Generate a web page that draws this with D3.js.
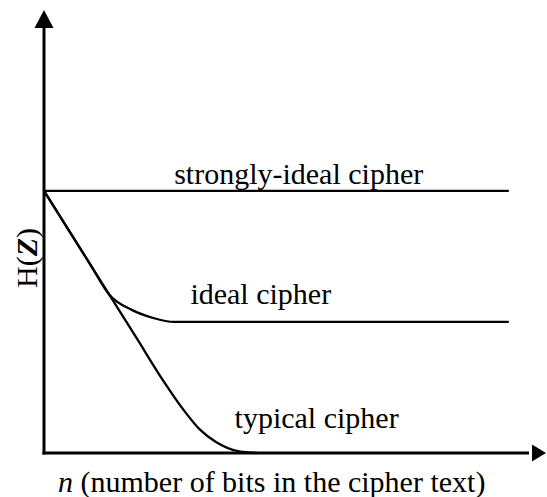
<!DOCTYPE html>
<html>
<head>
<meta charset="utf-8">
<script src="https://cdn.jsdelivr.net/npm/d3@7"></script>
<style>
  html, body { margin: 0; padding: 0; background: #fff; }
  svg { display: block; }
</style>
</head>
<body>
<script>
// curves: n on x, H(Z) on y (arbitrary units)
const strongIdeal = [[0, 100], [100, 100]]
const ideal = [[0, 100], [10, 71.8], [14, 60.5], [19, 54.5], [23.5, 51.5], [28, 50], [100, 50]]
const typical = [[0, 100], [20, 43.6], [25.5, 28], [30, 16.5], [33.5, 9], [37, 4.2], [42, 0.6], [46, 0]]

const curveLabels = ['strongly-ideal cipher', 'ideal cipher', 'typical cipher']
const labelAt = [[28, 102.5], [31.5, 57], [41, 9.5]]

const width = 547
const height = 497
const margins = { left: 44, right: 1, top: 10, bottom: 44 }
const serif = "'Liberation Serif', 'Times New Roman', Times, 'DejaVu Serif', serif"

const xMax = 108 // arrow tip
const yMax = 169

const x = d3.scaleLinear().domain([0, xMax]).range([margins.left, width - margins.right])
const y = d3.scaleLinear().domain([0, yMax]).range([height - margins.bottom, margins.top])

const svg = d3.select('body').append('svg')
  .attr('width', width)
  .attr('height', height)
  .attr('font-family', serif)

// axes with arrowheads
const head = 18
const half = 9.5
svg.append('line')
  .attr('x1', x(0)).attr('y1', y(0) + 1.5)
  .attr('x2', x(0)).attr('y2', y(yMax) + head - 1)
  .attr('stroke', '#000').attr('stroke-width', 3)
svg.append('path')
  .attr('d', `M${x(0)},${y(yMax)} L${x(0) - half},${y(yMax) + head} L${x(0) + half},${y(yMax) + head} Z`)
  .attr('fill', '#000')

svg.append('line')
  .attr('x1', x(0) - 1.5).attr('y1', y(0))
  .attr('x2', x(xMax) - head + 1).attr('y2', y(0))
  .attr('stroke', '#000').attr('stroke-width', 3)
svg.append('path')
  .attr('d', `M${x(xMax)},${y(0)} L${x(xMax) - head + 4},${y(0) - 8.5} L${x(xMax) - head + 4},${y(0) + 8.5} Z`)
  .attr('fill', '#000')

const line = d3.line()
  .x(d => x(d[0]))
  .y(d => y(d[1]))
  .curve(d3.curveMonotoneX)

svg.selectAll('path.curve')
  .data([strongIdeal, ideal, typical])
  .join('path')
  .attr('class', 'curve')
  .attr('d', line)
  .attr('fill', 'none')
  .attr('stroke', '#000')
  .attr('stroke-width', 2.3)

svg.selectAll('text.lbl')
  .data(curveLabels)
  .join('text')
  .attr('class', 'lbl')
  .attr('x', (d, i) => x(labelAt[i][0]))
  .attr('y', (d, i) => y(labelAt[i][1]))
  .attr('font-family', serif)
  .attr('font-size', 30)
  .text(d => d)

// axis titles
const xt = svg.append('text')
  .attr('x', 58)
  .attr('y', 492)
  .attr('font-family', serif)
  .attr('font-size', 30)
xt.append('tspan').attr('font-style', 'italic').text('n')
xt.append('tspan').text(' (number of bits in the cipher text)')

const yt = svg.append('text')
  .attr('transform', 'translate(37,258) rotate(-90)')
  .attr('text-anchor', 'middle')
  .attr('font-family', serif)
  .attr('font-size', 30)
yt.append('tspan').text('H(')
yt.append('tspan').attr('font-style', 'italic').attr('font-weight', 'bold').text('Z')
yt.append('tspan').text(')')
</script>
</body>
</html>
